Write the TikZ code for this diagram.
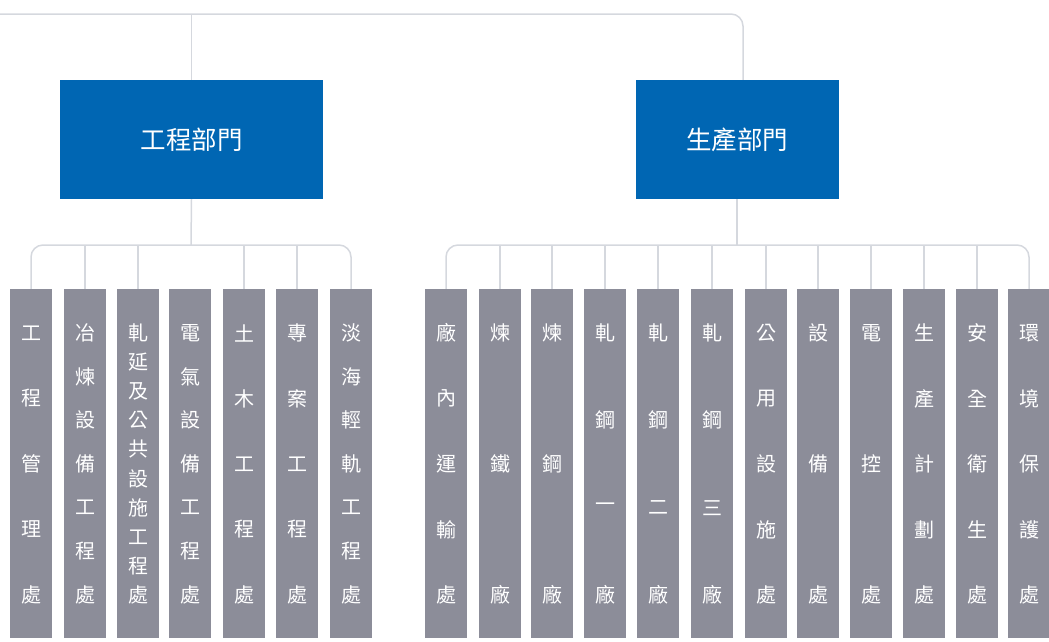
\documentclass[tikz,border=0pt]{standalone}
\usepackage{fontspec}
\newfontfamily\cjk{Noto Sans CJK TC}
\usetikzlibrary{calc}
\definecolor{deptblue}{RGB}{0,102,179}
\definecolor{unitgray}{RGB}{140,141,153}
\definecolor{linegray}{RGB}{213,216,222}
\tikzset{
  dept/.style={fill=deptblue, text=white, inner sep=0, minimum height=119, font=\cjk\fontsize{25.5}{25.5}\selectfont},
  unit/.style={fill=unitgray, minimum width=42, minimum height=349, inner sep=0},
  unitchar/.style={text=white, inner sep=0, font=\cjk\fontsize{20}{20}\selectfont},
  link/.style={draw=linegray, line width=1.5pt, rounded corners=12pt}
}
\newcommand\unitcol[4]{%
  \node[unit] (#1) at (#2,463.5) {};
  \foreach \ch [count=\k from 0] in {#4}
    \node[unitchar] (#1-\k) at (#2,{333+\k*262/(#3-1)}) {\ch};
}
\begin{document}
\begin{tikzpicture}[x=1pt, y=-1pt]
  \useasboundingbox (0,0) rectangle (1049,641);

  \node[dept, minimum width=263] (eng) at (191.5,139.5) {工程部門};
  \node[dept, minimum width=203] (prod) at (737,139.5) {生產部門};

  \unitcol{e1}{31}{5}{工,程,管,理,處}
  \unitcol{e2}{85}{7}{冶,煉,設,備,工,程,處}
  \unitcol{e3}{138}{10}{軋,延,及,公,共,設,施,工,程,處}
  \unitcol{e4}{190}{7}{電,氣,設,備,工,程,處}
  \unitcol{e5}{244}{5}{土,木,工,程,處}
  \unitcol{e6}{297}{5}{專,案,工,程,處}
  \unitcol{e7}{351}{7}{淡,海,輕,軌,工,程,處}

  \unitcol{p1}{446}{5}{廠,內,運,輸,處}
  \unitcol{p2}{500}{3}{煉,鐵,廠}
  \unitcol{p3}{552}{3}{煉,鋼,廠}
  \unitcol{p4}{605}{4}{軋,鋼,一,廠}
  \unitcol{p5}{658}{4}{軋,鋼,二,廠}
  \unitcol{p6}{712}{4}{軋,鋼,三,廠}
  \unitcol{p7}{766}{5}{公,用,設,施,處}
  \unitcol{p8}{818}{3}{設,備,處}
  \unitcol{p9}{871}{3}{電,控,處}
  \unitcol{p10}{924}{5}{生,產,計,劃,處}
  \unitcol{p11}{977}{5}{安,全,衛,生,處}
  \unitcol{p12}{1029}{5}{環,境,保,護,處}

  \coordinate (top) at (0,14);
  \coordinate (ebus) at (191,245);
  \coordinate (pbus) at (737,245);

  \draw[link] (top) -| ([xshift=6]prod.north);
  \draw[link] (eng.north) -- (eng.north |- top);

  \draw[link] (eng.south) -- (ebus);
  \draw[link] (e1.north) |- (ebus) -| (e7.north);
  \draw[link] (e2.north) -- (e2.north |- ebus);
  \draw[link] (e3.north) -- (e3.north |- ebus);
  \draw[link] (e5.north) -- (e5.north |- ebus);
  \draw[link] (e6.north) -- (e6.north |- ebus);

  \draw[link] (prod.south) -- (pbus);
  \draw[link] (p1.north) |- (pbus) -| (p12.north);
  \draw[link] (p2.north) -- (p2.north |- pbus);
  \draw[link] (p3.north) -- (p3.north |- pbus);
  \draw[link] (p4.north) -- (p4.north |- pbus);
  \draw[link] (p5.north) -- (p5.north |- pbus);
  \draw[link] (p6.north) -- (p6.north |- pbus);
  \draw[link] (p7.north) -- (p7.north |- pbus);
  \draw[link] (p8.north) -- (p8.north |- pbus);
  \draw[link] (p9.north) -- (p9.north |- pbus);
  \draw[link] (p10.north) -- (p10.north |- pbus);
  \draw[link] (p11.north) -- (p11.north |- pbus);
\end{tikzpicture}
\end{document}
